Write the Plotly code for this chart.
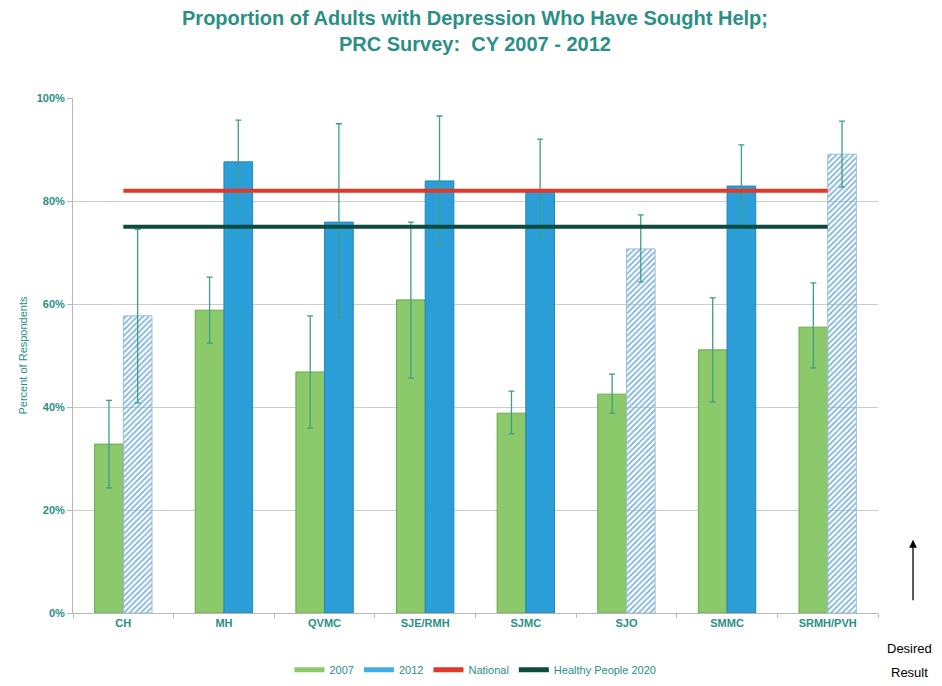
import plotly.graph_objects as go

categories = ["CH", "MH", "QVMC", "SJE/RMH", "SJMC", "SJO", "SMMC", "SRMH/PVH"]
v2007 = [32.8, 58.8, 46.8, 60.8, 38.8, 42.5, 51.1, 55.5]
v2007_hi = [41.3, 65.2, 57.7, 75.9, 43.1, 46.4, 61.2, 64.1]
v2007_lo = [24.3, 52.4, 35.9, 45.6, 34.8, 38.8, 41.0, 47.6]
v2012 = [57.7, 87.6, 75.9, 83.9, 81.7, 70.7, 82.9, 89.1]
v2012_hi = [74.5, 95.7, 95.0, 96.5, 92.0, 77.3, 90.9, 95.5]
v2012_lo = [40.8, 79.0, 57.3, 71.5, 72.8, 64.3, 74.8, 82.7]
hatched_2012 = [True, False, False, False, False, True, False, True]
national = 82
healthy_people_2020 = 75

TEAL = "#2a8f85"
ERR = "#3d9e8a"
GREEN = "#8bc96b"
BLUE = "#2b9ed8"
RED = "#e0382a"
DARK = "#0f4a3f"

err07_plus = [h - v for h, v in zip(v2007_hi, v2007)]
err07_minus = [v - l for l, v in zip(v2007_lo, v2007)]
err12_plus = [h - v for h, v in zip(v2012_hi, v2012)]
err12_minus = [v - l for l, v in zip(v2012_lo, v2012)]

fig = go.Figure()
fig.add_trace(go.Bar(
    x=categories, y=v2007, name="2007", showlegend=False,
    marker=dict(color=GREEN, line=dict(color="#6aab4c", width=1)),
    error_y=dict(type="data", array=err07_plus, arrayminus=err07_minus,
                 color=ERR, thickness=1.3, width=3),
))
fig.add_trace(go.Bar(
    x=categories, y=v2012, name="2012", showlegend=False,
    marker=dict(
        color=["#78b0da" if h else BLUE for h in hatched_2012],
        line=dict(color=["#9dbfdb" if h else "#2486ba" for h in hatched_2012], width=1),
        pattern=dict(
            shape=["/" if h else "" for h in hatched_2012],
            bgcolor=["#dcebf6" if h else BLUE for h in hatched_2012],
            fgcolor=["#78b0da" if h else BLUE for h in hatched_2012],
            size=4, solidity=0.4, fillmode="replace",
        ),
    ),
    error_y=dict(type="data", array=err12_plus, arrayminus=err12_minus,
                 color=ERR, thickness=1.3, width=3),
))
fig.add_trace(go.Scatter(
    x=categories, y=[national] * len(categories), name="National", showlegend=False,
    mode="lines", line=dict(color=RED, width=4),
))
fig.add_trace(go.Scatter(
    x=categories, y=[healthy_people_2020] * len(categories), name="Healthy People 2020",
    showlegend=False, mode="lines", line=dict(color=DARK, width=4),
))
# legend entries (flat bar-like symbols as in the reference)
for nm, col in [("2007", GREEN), ("2012", "#3fb0e6"), ("National", RED), ("Healthy People 2020", DARK)]:
    fig.add_trace(go.Scatter(x=[None], y=[None], name=nm, mode="lines",
                             line=dict(color=col, width=5), showlegend=True))

fig.update_layout(
    width=934, height=678,
    paper_bgcolor="white", plot_bgcolor="white",
    margin=dict(l=65, r=64, t=90, b=73),
    barmode="group", bargap=0.43, bargroupgap=0,
    font=dict(family="Liberation Sans, Arial, sans-serif", color=TEAL),
    title=dict(
        text="<b>Proportion of Adults with Depression Who Have Sought Help;<br>PRC Survey:  CY 2007 - 2012</b>",
        x=0.5, xref="container", xanchor="center", y=0.975, yanchor="top",
        font=dict(size=20, color=TEAL),
    ),
    showlegend=True,
    legend=dict(
        orientation="h", x=0.5, xanchor="center", yref="container", y=0.024, yanchor="middle",
        font=dict(size=11, color=TEAL), traceorder="normal",
        itemwidth=30, bgcolor="rgba(0,0,0,0)",
    ),
    yaxis=dict(
        range=[0, 100], tickvals=[0, 20, 40, 60, 80, 100],
        ticktext=["<b>0%</b>", "<b>20%</b>", "<b>40%</b>", "<b>60%</b>", "<b>80%</b>", "<b>100%</b>"],
        tickfont=dict(size=11, color=TEAL),
        showgrid=True, gridcolor="#cccccc", gridwidth=1,
        showline=True, linecolor="#b8b8b8", linewidth=1,
        ticks="outside", ticklen=5, tickcolor="#b8b8b8",
        zeroline=False,
        title=dict(text="Percent of Respondents", font=dict(size=11, color=TEAL), standoff=6),
    ),
    xaxis=dict(
        tickvals=categories, ticktext=["<b>%s</b>" % c for c in categories],
        tickfont=dict(size=11, color=TEAL),
        showline=True, linecolor="#b8b8b8", linewidth=1,
        ticks="outside", tickson="boundaries", ticklen=4, tickcolor="#b8b8b8",
        showgrid=False,
    ),
    annotations=[
        dict(x=1.0435, y=0.142, xref="paper", yref="paper", text="", showarrow=True,
             ax=0, ay=62, arrowhead=2, arrowsize=1.2, arrowwidth=1.3, arrowcolor="black"),
        dict(x=1.039, y=-0.068, xref="paper", yref="paper", text="Desired",
             showarrow=False, font=dict(size=13, color="black"), xanchor="center", yanchor="middle"),
        dict(x=1.039, y=-0.1146, xref="paper", yref="paper", text="Result",
             showarrow=False, font=dict(size=13, color="black"), xanchor="center", yanchor="middle"),
    ],
)

fig.write_html("out.html")
